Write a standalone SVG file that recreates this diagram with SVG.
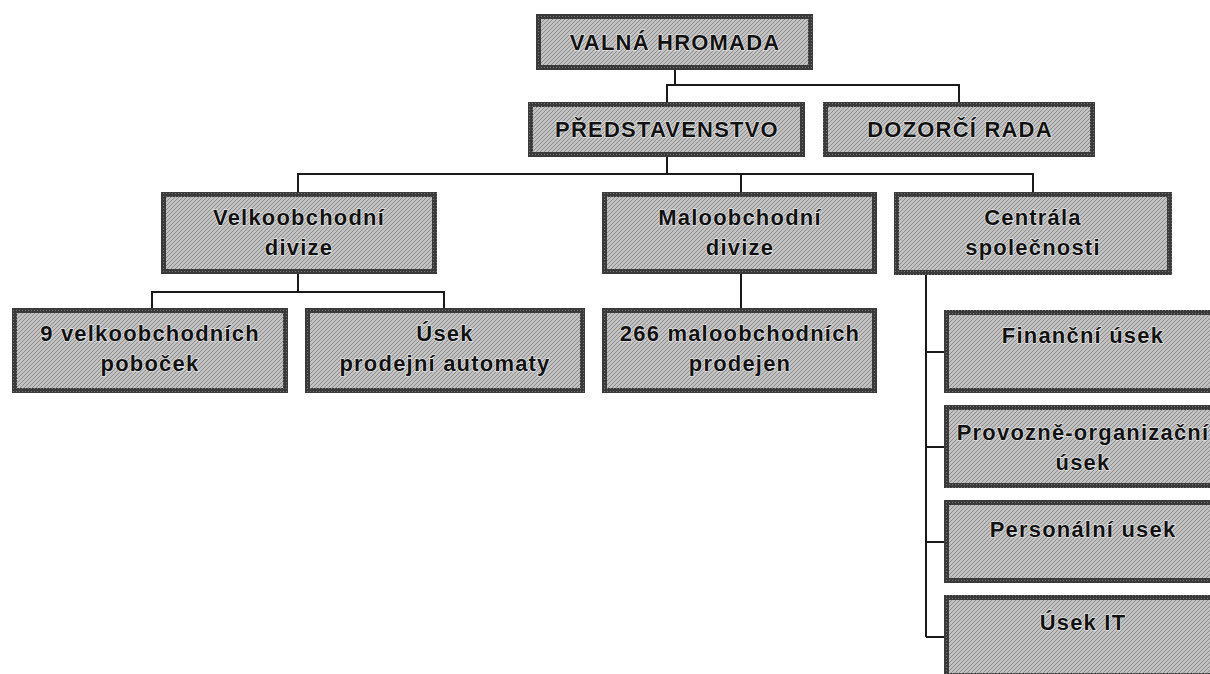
<svg xmlns="http://www.w3.org/2000/svg" width="1210" height="674" viewBox="0 0 1210 674">
<defs>
<pattern id="dither" width="4" height="4" patternUnits="userSpaceOnUse">
<rect width="4" height="4" fill="#c2c2c2"/>
<path d="M0 4L4 0M-1 1L1 -1M3 5L5 3" stroke="#8c8c8c" stroke-width="1"/>
</pattern>
<pattern id="frame" width="3" height="3" patternUnits="userSpaceOnUse">
<rect width="3" height="3" fill="#3a3a3a"/>
<rect x="1" y="1" width="1" height="1" fill="#777"/>
</pattern>
</defs>
<style>
.box{fill:url(#dither);stroke:url(#frame);stroke-width:5}
.t{font-family:"Liberation Sans",Arial,sans-serif;font-weight:bold;font-size:22px;letter-spacing:1.2px;fill:#111;text-anchor:middle;stroke:#f2f2f2;stroke-width:1.2px;paint-order:stroke}
.c{fill:none;stroke:#1a1a1a;stroke-width:2}
</style>
<rect width="1210" height="674" fill="#ffffff"/>
<g id="connectors">
<path class="c" d="M675 70V85M667 103V85H959V102"/>
<path class="c" d="M667 157V174M298 192V174H1033V192M741 174V192"/>
<path class="c" d="M298 274V292M152 308V292H444V308"/>
<path class="c" d="M741 274V308"/>
<path class="c" d="M926 275V637M926 352H944M926 447H944M926 542H944M926 637H944"/>
</g>
<g id="valna-hromada">
<rect class="box" x="538.5" y="16.5" width="272" height="51"/>
<text class="t" x="675" y="50">VALNÁ HROMADA</text>
</g>
<g id="predstavenstvo">
<rect class="box" x="530.5" y="104.5" width="272" height="50"/>
<text class="t" x="667" y="137">PŘEDSTAVENSTVO</text>
</g>
<g id="dozorci-rada">
<rect class="box" x="825.5" y="104.5" width="267" height="50"/>
<text class="t" x="960" y="137">DOZORČÍ RADA</text>
</g>
<g id="velkoobchodni-divize">
<rect class="box" x="163.5" y="194.5" width="271" height="77"/>
<text class="t" x="299" y="225">Velkoobchodní</text>
<text class="t" x="299" y="255">divize</text>
</g>
<g id="maloobchodni-divize">
<rect class="box" x="604.5" y="194.5" width="270" height="77"/>
<text class="t" x="740" y="225">Maloobchodní</text>
<text class="t" x="740" y="255">divize</text>
</g>
<g id="centrala-spolecnosti">
<rect class="box" x="896.5" y="194.5" width="273" height="78"/>
<text class="t" x="1033" y="225">Centrála</text>
<text class="t" x="1033" y="255">společnosti</text>
</g>
<g id="velkoobchodni-pobocky">
<rect class="box" x="14.5" y="310.5" width="271" height="80"/>
<text class="t" x="150" y="341">9 velkoobchodních</text>
<text class="t" x="150" y="371">poboček</text>
</g>
<g id="usek-prodejni-automaty">
<rect class="box" x="307.5" y="310.5" width="275" height="80"/>
<text class="t" x="445" y="341">Úsek</text>
<text class="t" x="445" y="371">prodejní automaty</text>
</g>
<g id="maloobchodni-prodejny">
<rect class="box" x="604.5" y="310.5" width="270" height="80"/>
<text class="t" x="740" y="341">266 maloobchodních</text>
<text class="t" x="740" y="371">prodejen</text>
</g>
<g id="financni-usek">
<rect class="box" x="946.5" y="312.5" width="274" height="78"/>
<text class="t" x="1083" y="343">Finanční úsek</text>
</g>
<g id="provozne-organizacni-usek">
<rect class="box" x="946.5" y="407.5" width="274" height="78"/>
<text class="t" x="1083" y="440">Provozně-organizační</text>
<text class="t" x="1083" y="470">úsek</text>
</g>
<g id="personalni-usek">
<rect class="box" x="946.5" y="502.5" width="274" height="78"/>
<text class="t" x="1083" y="537">Personální usek</text>
</g>
<g id="usek-it">
<rect class="box" x="946.5" y="597.5" width="274" height="78"/>
<text class="t" x="1083" y="630">Úsek IT</text>
</g>
</svg>
